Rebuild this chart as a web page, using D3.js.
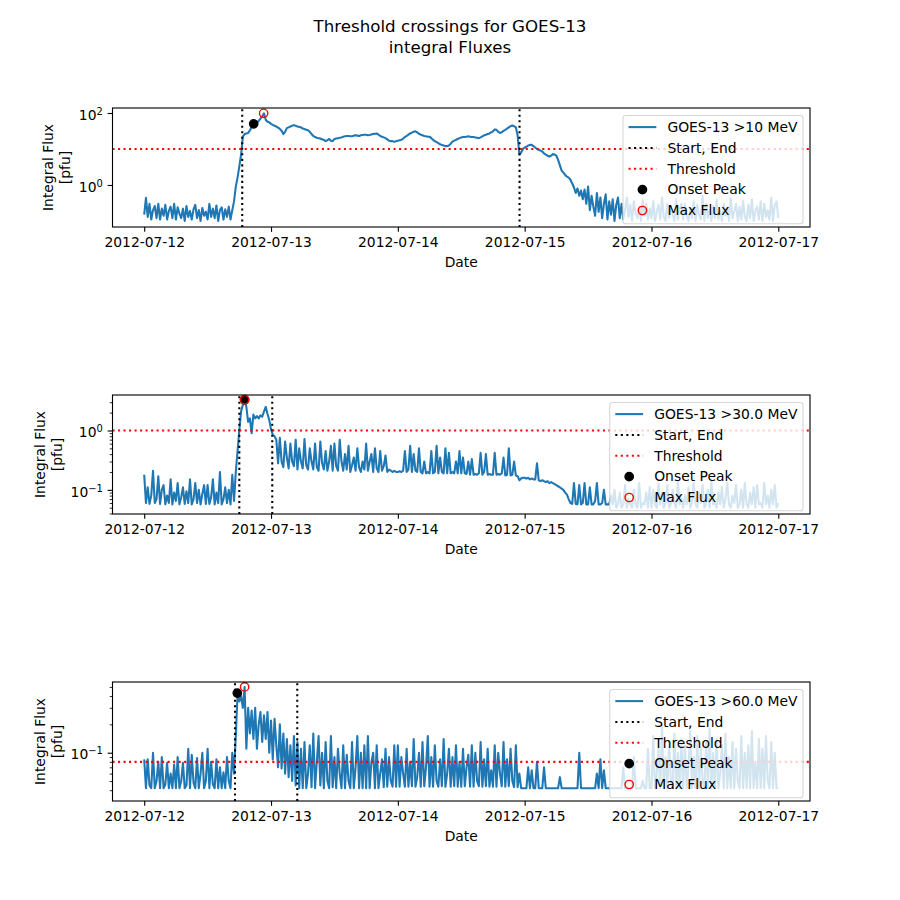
<!DOCTYPE html>
<html><head><meta charset="utf-8">
<script src="https://cdn.jsdelivr.net/npm/d3@7"></script>
<style>body{margin:0;background:#fff} svg{display:block} text{font-family:"DejaVu Sans",sans-serif;fill:#000}</style>
</head><body><svg id="c" width="900" height="900"></svg>
<script>
// ---------------- DATA ----------------
const titleLines = ["Threshold crossings for GOES-13", "integral Fluxes"];
const startTime = "2012-07-12T00:00:00Z";
const stepMinutes = 20;
const flux10 = [
0.15,0.44,0.13,0.3,0.11,0.2,0.26,0.12,0.3,0.11,0.22,0.14,0.28,0.11,0.19,0.25,0.12,0.3,
0.11,0.24,0.16,0.12,0.22,0.1,0.26,0.13,0.19,0.11,0.21,0.28,0.12,0.2,0.1,0.23,0.14,0.18,
0.11,0.3,0.13,0.22,0.12,0.27,0.1,0.2,0.24,0.11,0.21,0.13,0.25,0.11,0.2,0.35,0.9,1.6,
3.3,7,22,26,27,28,33,40,45,50,55,60,70,80,98,65,57,55,
50,47,44,42,39,36,32,26,30,38,40,42,44,46,44,42,41,40,
37,36,34,33,30,26,23,21.5,20.5,20,19.5,18.5,18,16.5,17.5,19,17,16.5,
19,19.5,20,20.5,21,22,22.5,23,23,22.5,22.5,23.5,24,23.5,23,24,24.5,25,
25,24,24.5,25.5,26,26.5,27,25,23,22,21,20,18.5,17,16.5,16.5,16,16.5,
17,17.5,18,19.5,21.5,23,25,27,28.5,30,31,29,26.5,25,24,23,22.5,22,
22,20,18,16.5,15.5,14.5,13.5,13,12.5,12,12,12.5,14,16,17,18,19,20,
21,21.5,21.5,22,22.5,22,21.5,21.5,21,20.5,20,21,22.5,24,25,26,27,29,
31,35,34,30,28,29,32,34,37,40,43,45,43,40,24,7,8,10,
11,11.5,12.5,13,13,12,11,10,9.5,9,8.5,7.5,7,6.5,6.2,6.5,7.2,7,
6.5,5,3.5,2.5,2.2,1.9,1.7,1.6,1.4,1.1,0.85,0.6,0.8,0.5,0.7,0.4,0.75,0.3,
0.9,0.2,0.5,0.25,0.14,0.6,0.18,0.45,0.12,0.3,0.55,0.11,0.35,0.15,0.4,0.1,0.28,0.45,
0.12,0.3,0.11,0.2,0.45,0.13,0.28,0.1,0.35,0.16,0.12,0.25,0.1,0.38,0.14,0.3,0.11,0.22,
0.12,0.35,0.1,0.18,0.28,0.11,0.45,0.13,0.1,0.3,0.12,0.25,0.16,0.1,0.4,0.11,0.22,0.3,
0.11,0.3,0.14,0.1,0.22,0.12,0.35,0.1,0.28,0.15,0.11,0.5,0.1,0.3,0.12,0.2,0.1,0.26,
0.12,0.38,0.11,0.2,0.1,0.3,0.14,0.24,0.1,0.42,0.12,0.18,0.3,0.1,0.25,0.11,0.36,0.13,
0.1,0.28,0.12,0.4,0.1,0.19,0.25,0.11,0.35,0.1,0.3,0.13,0.2,0.11,0.45,0.1,0.28,0.35,
0.12];
const flux30 = [
0.18,0.06,0.11,0.058,0.08,0.21,0.06,0.07,0.17,0.058,0.1,0.12,0.057,0.08,0.06,0.15,0.057,0.09,
0.065,0.13,0.057,0.075,0.11,0.058,0.095,0.06,0.15,0.057,0.07,0.13,0.06,0.1,0.057,0.085,0.12,0.058,
0.12,0.058,0.075,0.15,0.057,0.09,0.06,0.2,0.057,0.07,0.11,0.06,0.1,0.057,0.18,0.065,0.2,0.45,
1.0,2.1,2.7,3.3,2.5,1.4,1.6,0.9,1.85,1.6,1.75,1.6,1.8,1.7,2.1,2.5,1.9,1.5,
1.05,0.85,0.8,0.7,0.28,0.75,0.3,0.24,0.65,0.35,0.23,0.6,0.3,0.25,0.7,0.22,0.5,0.3,
0.23,0.72,0.26,0.22,0.5,0.3,0.22,0.6,0.24,0.21,0.65,0.28,0.22,0.45,0.21,0.3,0.55,0.21,
0.6,0.25,0.21,0.7,0.3,0.21,0.4,0.22,0.55,0.2,0.26,0.35,0.21,0.5,0.24,0.2,0.3,0.22,
0.6,0.21,0.3,0.4,0.2,0.5,0.23,0.2,0.45,0.21,0.25,0.38,0.2,0.22,0.21,0.2,0.21,0.2,
0.2,0.205,0.2,0.21,0.45,0.2,0.22,0.55,0.2,0.4,0.21,0.2,0.5,0.2,0.19,0.3,0.19,0.2,
0.19,0.45,0.19,0.2,0.55,0.19,0.35,0.2,0.19,0.5,0.19,0.42,0.19,0.2,0.19,0.3,0.19,0.45,
0.19,0.35,0.19,0.185,0.3,0.18,0.33,0.18,0.185,0.18,0.19,0.42,0.18,0.2,0.4,0.18,0.185,0.18,
0.18,0.42,0.18,0.185,0.18,0.19,0.35,0.175,0.18,0.5,0.175,0.18,0.3,0.175,0.17,0.145,0.155,0.16,
0.16,0.155,0.16,0.15,0.155,0.15,0.15,0.28,0.145,0.14,0.145,0.14,0.135,0.14,0.13,0.135,0.13,0.125,
0.12,0.115,0.11,0.105,0.1,0.09,0.083,0.07,0.06,0.058,0.13,0.058,0.057,0.12,0.057,0.06,0.13,0.057,
0.057,0.11,0.057,0.057,0.065,0.13,0.057,0.057,0.06,0.1,0.057,0.057,0.057,0.08,0.057,0.1,0.05,0.057,
0.09,0.05,0.057,0.12,0.05,0.07,0.057,0.05,0.1,0.057,0.05,0.13,0.05,0.06,0.057,0.09,0.05,0.11,
0.05,0.1,0.057,0.05,0.13,0.057,0.09,0.05,0.06,0.12,0.05,0.057,0.1,0.06,0.05,0.14,0.057,0.07,
0.05,0.08,0.057,0.11,0.05,0.06,0.13,0.057,0.05,0.09,0.06,0.12,0.05,0.057,0.1,0.05,0.14,0.057,
0.06,0.05,0.09,0.057,0.11,0.05,0.07,0.13,0.057,0.05,0.08,0.06,0.12,0.05,0.057,0.1,0.05,0.13,
0.057,0.05,0.09,0.057,0.11,0.05,0.12,0.057,0.06,0.05,0.13,0.057,0.08,0.05,0.1,0.057,0.12,0.05,
0.06];
const flux60 = [
0.085,0.042,0.085,0.045,0.042,0.1,0.042,0.05,0.08,0.042,0.09,0.042,0.046,0.078,0.042,0.06,0.042,0.075,
0.042,0.09,0.042,0.05,0.078,0.042,0.045,0.11,0.042,0.095,0.048,0.042,0.088,0.042,0.06,0.1,0.042,0.05,
0.11,0.042,0.08,0.046,0.042,0.085,0.042,0.07,0.042,0.062,0.042,0.09,0.05,0.042,0.1,0.06,0.15,0.42,
0.35,0.4,0.3,0.5,0.11,0.3,0.16,0.28,0.14,0.3,0.11,0.2,0.27,0.13,0.25,0.14,0.27,0.1,
0.22,0.085,0.23,0.12,0.07,0.2,0.068,0.16,0.06,0.14,0.055,0.12,0.05,0.15,0.045,0.13,0.042,0.11,
0.042,0.13,0.042,0.06,0.12,0.043,0.16,0.042,0.08,0.15,0.045,0.1,0.042,0.13,0.05,0.042,0.15,0.043,
0.09,0.042,0.11,0.06,0.042,0.12,0.042,0.095,0.05,0.042,0.13,0.042,0.07,0.15,0.042,0.1,0.042,0.12,
0.042,0.15,0.042,0.08,0.1,0.042,0.12,0.042,0.06,0.085,0.043,0.11,0.0435,0.09,0.05,0.0435,0.12,0.0435,
0.12,0.0435,0.09,0.06,0.0435,0.11,0.0435,0.08,0.044,0.14,0.0435,0.055,0.1,0.0435,0.13,0.044,0.07,0.15,
0.0435,0.09,0.0435,0.12,0.05,0.0435,0.085,0.044,0.14,0.0435,0.06,0.11,0.0435,0.09,0.044,0.12,0.0435,0.08,
0.0435,0.11,0.044,0.07,0.095,0.0435,0.12,0.0435,0.1,0.05,0.044,0.13,0.0435,0.085,0.044,0.11,0.0435,0.065,
0.0435,0.12,0.0435,0.1,0.06,0.044,0.13,0.0435,0.085,0.044,0.11,0.05,0.043,0.12,0.043,0.06,0.042,0.042,
0.042,0.042,0.07,0.042,0.065,0.042,0.042,0.08,0.042,0.042,0.042,0.07,0.042,0.042,0.042,0.042,0.042,0.042,
0.042,0.042,0.055,0.042,0.042,0.042,0.042,0.042,0.042,0.042,0.042,0.042,0.042,0.1,0.042,0.042,0.042,0.042,
0.042,0.042,0.042,0.042,0.042,0.06,0.042,0.085,0.042,0.065,0.042,0.042,0.042,0.042,0.042,0.042,0.042,0.042,
0.042,0.042,0.07,0.042,0.042,0.042,0.042,0.042,0.09,0.042,0.042,0.042,0.042,0.05,0.042,0.042,0.11,0.042,
0.042,0.15,0.042,0.06,0.11,0.042,0.19,0.042,0.09,0.042,0.13,0.05,0.042,0.16,0.042,0.1,0.042,0.14,
0.042,0.12,0.042,0.07,0.17,0.042,0.09,0.042,0.15,0.042,0.11,0.05,0.042,0.13,0.042,0.18,0.042,0.1,
0.042,0.14,0.042,0.06,0.12,0.042,0.16,0.042,0.09,0.042,0.13,0.042,0.11,0.05,0.042,0.15,0.042,0.1,
0.042,0.12,0.042,0.17,0.042,0.08,0.042,0.14,0.042,0.11,0.042,0.15,0.05,0.042,0.13,0.042,0.1,0.042,
0.042];
const seriesLabels = ["GOES-13 >10 MeV", "GOES-13 >30.0 MeV", "GOES-13 >60.0 MeV"];
const legendLabels = ["Start, End", "Threshold", "Onset Peak", "Max Flux"];
const thresholds = [10, 1, 0.08];
const startTimes = ["2012-07-12T18:33:00Z", "2012-07-12T18:00:00Z", "2012-07-12T17:11:00Z"];
const endTimes = ["2012-07-14T23:02:00Z", "2012-07-13T00:14:00Z", "2012-07-13T04:58:00Z"];
const onsetPeakTimes = ["2012-07-12T20:43:00Z", "2012-07-12T19:00:00Z", "2012-07-12T17:37:00Z"];
const onsetPeakValues = [50, 3.3, 0.43];
const maxFluxTimes = ["2012-07-12T22:36:00Z", "2012-07-12T19:00:00Z", "2012-07-12T19:00:00Z"];
const maxFluxValues = [98, 3.3, 0.5];
const xLimits = ["2012-07-11T18:00:00Z", "2012-07-17T06:00:00Z"];
const xTickDates = ["2012-07-12", "2012-07-13", "2012-07-14", "2012-07-15", "2012-07-16", "2012-07-17"];
const yLimits = [[0.068, 137.7], [0.0392, 3.96], [0.0307, 0.564]];
const yMajorTicks = [[1, 100], [0.1, 1], [0.1]];
const yLabelLines = ["Integral Flux", "[pfu]"];
const xLabel = "Date";

// ---------------- LAYOUT ----------------
const axLeft = 112.5, axRight = 810, panelTops = [108, 395, 682], panelH = 119;
const FS = 13.89, blue = "#1f77b4";
const svg = d3.select("#c");
const t0 = Date.parse(startTime);
const x = d3.scaleUtc().domain(xLimits.map(s => new Date(s))).range([axLeft, axRight]);

svg.append("text").attr("x", 450).attr("y", 31.5).attr("text-anchor", "middle")
  .attr("font-size", 16.67).text(titleLines[0]);
svg.append("text").attr("x", 450).attr("y", 53).attr("text-anchor", "middle")
  .attr("font-size", 16.67).text(titleLines[1]);

const fluxes = [flux10, flux30, flux60];
const dotted = "2.08 3.43";

fluxes.forEach((flux, p) => {
  const times = flux.map((_, i) => new Date(t0 + i * stepMinutes * 60000));
  const top = panelTops[p], bot = top + panelH;
  const y = d3.scaleLog().domain(yLimits[p]).range([bot, top]);
  const g = svg.append("g");
  const clipId = "clip" + p;
  svg.append("clipPath").attr("id", clipId).append("rect")
    .attr("x", axLeft).attr("y", top).attr("width", axRight - axLeft).attr("height", panelH);
  const plot = g.append("g").attr("clip-path", `url(#${clipId})`);

  const line = d3.line().x((d, i) => x(times[i])).y(d => y(d));
  plot.append("path").datum(flux).attr("d", line).attr("fill", "none")
    .attr("stroke", blue).attr("stroke-width", 2.08).attr("stroke-linejoin", "round");

  [startTimes[p], endTimes[p]].forEach(t => {
    const xx = x(new Date(t));
    plot.append("line").attr("x1", xx).attr("x2", xx).attr("y1", bot).attr("y2", top)
      .attr("stroke", "#000").attr("stroke-width", 2.08).attr("stroke-dasharray", dotted);
  });
  plot.append("line").attr("x1", axLeft).attr("x2", axRight)
    .attr("y1", y(thresholds[p])).attr("y2", y(thresholds[p]))
    .attr("stroke", "red").attr("stroke-width", 2.08).attr("stroke-dasharray", dotted);

  g.append("circle").attr("cx", x(new Date(onsetPeakTimes[p]))).attr("cy", y(onsetPeakValues[p]))
    .attr("r", 4.17).attr("fill", "#000").attr("stroke", "#000").attr("stroke-width", 1.39);
  g.append("circle").attr("cx", x(new Date(maxFluxTimes[p]))).attr("cy", y(maxFluxValues[p]))
    .attr("r", 4.17).attr("fill", "none").attr("stroke", "red").attr("stroke-width", 1.39);

  // x axis
  const xa = g.append("g").attr("transform", `translate(0,${bot})`)
    .call(d3.axisBottom(x).tickValues(xTickDates.map(s => new Date(s + "T00:00:00Z")))
      .tickFormat(d3.utcFormat("%Y-%m-%d")).tickSize(4.86).tickPadding(4.86).tickSizeOuter(0));
  xa.select(".domain").remove();
  xa.selectAll(".tick line").attr("stroke-width", 1.11);
  xa.selectAll("text").attr("font-size", FS).attr("font-family", "DejaVu Sans");

  // y axis: major
  const majors = yMajorTicks[p];
  const ya = g.append("g").attr("transform", `translate(${axLeft},0)`)
    .call(d3.axisLeft(y).tickValues(majors).tickSize(4.86).tickPadding(4.86).tickSizeOuter(0).tickFormat(() => ""));
  ya.select(".domain").remove();
  ya.selectAll(".tick line").attr("stroke-width", 1.11);
  ya.selectAll(".tick text").attr("font-size", FS).attr("font-family", "DejaVu Sans").attr("dy", "0.45em")
    .each(function (d) {
      const e = Math.round(Math.log10(d));
      const t = d3.select(this);
      t.append("tspan").text("10");
      t.append("tspan").attr("font-size", 9.9).attr("dy", -5).text(String(e).replace("-", "\u2212"));
    });
  // minor ticks (only when every decade is labelled)
  const stride = majors.length > 1 ? Math.round(Math.log10(majors[1] / majors[0])) : 1;
  if (stride === 1) {
    const minors = y.ticks().filter(v => {
      const l = Math.log10(v);
      return Math.abs(l - Math.round(l)) > 1e-6 && v >= yLimits[p][0] && v <= yLimits[p][1];
    });
    const ym = g.append("g").attr("transform", `translate(${axLeft},0)`)
      .call(d3.axisLeft(y).tickValues(minors).tickSize(2.78).tickSizeOuter(0).tickFormat(() => ""));
    ym.select(".domain").remove();
    ym.selectAll(".tick line").attr("stroke-width", 0.83);
  }

  // spines
  g.append("rect").attr("x", axLeft).attr("y", top).attr("width", axRight - axLeft).attr("height", panelH)
    .attr("fill", "none").attr("stroke", "#000").attr("stroke-width", 1.11);

  // axis labels
  g.append("text").attr("x", (axLeft + axRight) / 2).attr("y", bot + 39.5).attr("text-anchor", "middle")
    .attr("font-size", FS).text(xLabel);
  const lx = p === 0 ? [53, 70] : [45, 62];
  const cy = top + panelH / 2;
  yLabelLines.forEach((s, k) => {
    g.append("text").attr("transform", `translate(${lx[k]},${cy}) rotate(-90)`)
      .attr("text-anchor", "middle").attr("font-size", FS).text(s);
  });

  // legend
  const labels = [seriesLabels[p]].concat(legendLabels);
  const lg = g.append("g");
  const tmp = lg.append("text").attr("font-size", FS);
  let maxW = 0;
  labels.forEach(s => { tmp.text(s); maxW = Math.max(maxW, tmp.node().getComputedTextLength()); });
  tmp.remove();
  const pad = 5.56, hl = 27.8, htp = 11.1;
  const bw = pad + hl + htp + maxW + pad;
  const bx = axRight - 7 - bw, by = top + 7.5, bh = 108.3;
  lg.append("rect").attr("x", bx).attr("y", by).attr("width", bw).attr("height", bh).attr("rx", 2.8)
    .attr("fill", "#fff").attr("fill-opacity", 0.8).attr("stroke", "#ccc").attr("stroke-opacity", 0.8).attr("stroke-width", 1.11);
  labels.forEach((s, k) => {
    const rc = by + 11.6 + k * 20.85;
    const hx0 = bx + pad, hx1 = hx0 + hl, hm = (hx0 + hx1) / 2;
    if (k === 0) lg.append("line").attr("x1", hx0).attr("x2", hx1).attr("y1", rc).attr("y2", rc)
      .attr("stroke", blue).attr("stroke-width", 2.08);
    if (k === 1 || k === 2) lg.append("line").attr("x1", hx0).attr("x2", hx1).attr("y1", rc).attr("y2", rc)
      .attr("stroke", k === 1 ? "#000" : "red").attr("stroke-width", 2.08).attr("stroke-dasharray", dotted);
    if (k === 3) lg.append("circle").attr("cx", hm).attr("cy", rc).attr("r", 4.17).attr("fill", "#000")
      .attr("stroke", "#000").attr("stroke-width", 1.39);
    if (k === 4) lg.append("circle").attr("cx", hm).attr("cy", rc).attr("r", 4.17).attr("fill", "none")
      .attr("stroke", "red").attr("stroke-width", 1.39);
    lg.append("text").attr("x", hx1 + htp).attr("y", rc + 4.8).attr("font-size", FS).text(s);
  });
});
</script></body></html>
